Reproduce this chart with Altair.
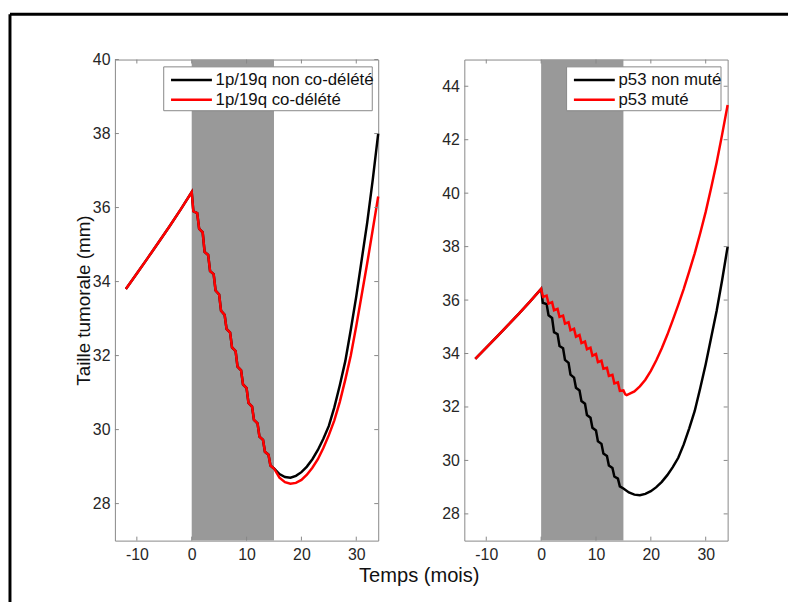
import altair as alt
import pandas as pd

# ---------------- data ----------------
# pre-treatment growth, shared by every curve
pre_t = [-12, -10, -8, -6, -4, -2, 0]
pre_v = [33.80, 34.22, 34.64, 35.07, 35.50, 35.95, 36.42]

# treatment phase, strong response (1p/19q both curves, p53 non muté)
treatA_t = [0.3, 1, 1.35, 2, 2.35, 3, 3.35, 4, 4.35, 5, 5.35, 6, 6.35, 7, 7.35,
            8, 8.35, 9, 9.35, 10, 10.35, 11, 11.35, 12, 12.35, 13, 13.35, 14, 14.35, 15]
treatA_v = [35.90, 35.85, 35.43, 35.33, 34.80, 34.72, 34.28, 34.20, 33.76, 33.65,
            33.21, 33.10, 32.72, 32.62, 32.22, 32.12, 31.70, 31.60, 31.22, 31.12,
            30.72, 30.62, 30.26, 30.17, 29.81, 29.72, 29.40, 29.32, 29.03, 28.95]

# treatment phase, weak response (p53 muté)
treatB_t = [0.35, 1, 1.35, 2, 2.35, 3, 3.35, 4, 4.35, 5, 5.35, 6, 6.35, 7, 7.35,
            8, 8.35, 9, 9.35, 10, 10.35, 11, 11.35, 12, 12.35, 13, 13.35, 14, 14.35,
            15, 15.35, 15.6]
treatB_v = [36.12, 36.17, 35.87, 35.92, 35.62, 35.67, 35.37, 35.42, 35.12, 35.17,
            34.87, 34.93, 34.63, 34.69, 34.39, 34.45, 34.16, 34.22, 33.92, 33.98,
            33.68, 33.73, 33.43, 33.47, 33.16, 33.20, 32.88, 32.92, 32.60, 32.62,
            32.47, 32.44]

post_t = [16, 17, 18, 19, 20, 21, 22, 23, 24, 25, 26, 27, 28, 29, 30, 31, 32, 33, 34]
post_black_v = [28.80, 28.72, 28.70, 28.75, 28.85, 29.00, 29.20, 29.45, 29.75, 30.10,
                30.60, 31.20, 31.85, 32.70, 33.60, 34.60, 35.60, 36.75, 38.00]
post_red_left_v = [28.70, 28.58, 28.54, 28.56, 28.64, 28.78, 28.97, 29.20, 29.50, 29.85,
                   30.25, 30.75, 31.35, 32.00, 32.80, 33.65, 34.50, 35.40, 36.30]
post_red_right_v = [32.47, 32.58, 32.77, 33.02, 33.35, 33.75, 34.20, 34.70, 35.25, 35.82,
                    36.42, 37.07, 37.75, 38.50, 39.30, 40.20, 41.15, 42.20, 43.30]

labels_left = ["1p/19q non co-délété", "1p/19q co-délété"]
labels_right = ["p53 non muté", "p53 muté"]

x_ticks = [-10, 0, 10, 20, 30]
y_ticks_left = [28, 30, 32, 34, 36, 38, 40]
y_ticks_right = [28, 30, 32, 34, 36, 38, 40, 42, 44]
band_start = [0]
band_end = [15]

# ---------------- style ----------------
W, H = 266, 486
FONT = "Liberation Sans"
GRAY = "#888888"
BAND = "#999999"
TXT = "#262626"
XDOM = [-14, 34]


def make_panel(bt, bv, rt, rv, labels, ydom, yticks, left, leg_x0, leg_x1):
    xs = alt.Scale(domain=XDOM, nice=False, zero=False)
    ys = alt.Scale(domain=ydom, nice=False, zero=False)
    if left:
        xaxis = alt.Axis(values=x_ticks, labelExpr="datum.value", title="Temps (mois)",
                         titleX=307, titleY=41, titleAlign="center",
                         titleBaseline="alphabetic", titleFontSize=20.3, titleFont=FONT,
                         titleFontWeight="normal", titleColor="#111111")
        yaxis = alt.Axis(values=yticks, labelExpr="datum.value", title="Taille tumorale (mm)",
                         titleX=-31.5, titleY=H / 2, titleAngle=270, titleBaseline="middle",
                         titleAlign="center", titleFontSize=19, titleFont=FONT,
                         titleFontWeight="normal", titleColor="#111111")
    else:
        xaxis = alt.Axis(values=x_ticks, labelExpr="datum.value", title=None)
        yaxis = alt.Axis(values=yticks, labelExpr="datum.value", title=None)

    X = lambda f: alt.X(f, type="quantitative", scale=xs, axis=xaxis)
    Y = lambda f: alt.Y(f, type="quantitative", scale=ys, axis=yaxis)

    band = alt.Chart(pd.DataFrame({"s": band_start, "e": band_end})).mark_rect(
        color=BAND).encode(x=X("s"), x2="e", y=alt.value(0), y2=alt.value(H))

    df_b = pd.DataFrame({"t": bt, "v": bv, "serie": labels[0]})
    df_r = pd.DataFrame({"t": rt, "v": rv, "serie": labels[1]})
    cs = alt.Scale(domain=labels, range=["#000000", "#ff0000"])
    line_b = alt.Chart(df_b).mark_line(strokeWidth=2.5).encode(
        x=X("t"), y=Y("v"), color=alt.Color("serie:N", scale=cs, legend=None))
    line_r = alt.Chart(df_r).mark_line(strokeWidth=2.5).encode(
        x=X("t"), y=Y("v"), color=alt.Color("serie:N", scale=cs, legend=None))

    dx = pd.DataFrame({"tx": x_ticks})
    dy = pd.DataFrame({"ty": yticks})
    tk = dict(color=GRAY, strokeWidth=1)
    tick_b = alt.Chart(dx).mark_rule(**tk).encode(x=X("tx"), y=alt.value(H), y2=alt.value(H - 4))
    tick_t = alt.Chart(dx).mark_rule(**tk).encode(x=X("tx"), y=alt.value(0), y2=alt.value(4))
    tick_l = alt.Chart(dy).mark_rule(**tk).encode(y=Y("ty"), x=alt.value(0), x2=alt.value(4))
    tick_r = alt.Chart(dy).mark_rule(**tk).encode(y=Y("ty"), x=alt.value(W), x2=alt.value(W - 4))

    layers = [band, line_b, line_r, tick_b, tick_t, tick_l, tick_r]

    # legend box (drawn inside the plot, top right)
    leg_box = alt.Chart(pd.DataFrame({"k": [0]})).mark_rect(
        fill="white", stroke=GRAY, strokeWidth=1).encode(
        x=alt.value(leg_x0), x2=alt.value(leg_x1), y=alt.value(7.4), y2=alt.value(51.7))
    layers.append(leg_box)
    for i, (lab, col) in enumerate(zip(labels, ["#000000", "#ff0000"])):
        yy = 20.7 + 20 * i
        d = pd.DataFrame({"label": [lab]})
        layers.append(alt.Chart(d).mark_rule(color=col, strokeWidth=2.5).encode(
            x=alt.value(leg_x0 + 7.4), x2=alt.value(leg_x0 + 48.7), y=alt.value(yy)))
        layers.append(alt.Chart(d).mark_text(
            align="left", baseline="middle", font=FONT, fontSize=17, color="#111111").encode(
            text="label:N", x=alt.value(leg_x0 + 52.4), y=alt.value(yy)))

    if left:
        fr = pd.DataFrame({"k": [0]})
        layers.append(alt.Chart(fr).mark_rule(color="black", strokeWidth=3).encode(
            x=alt.value(-106), y=alt.value(-45.8), y2=alt.value(548)))
        layers.append(alt.Chart(fr).mark_rule(color="black", strokeWidth=3).encode(
            x=alt.value(-106), x2=alt.value(680), y=alt.value(-45.8)))

    return alt.layer(*layers).properties(width=W, height=H)


left_panel = make_panel(pre_t + treatA_t + post_t, pre_v + treatA_v + post_black_v,
                        pre_t + treatA_t + post_t, pre_v + treatA_v + post_red_left_v,
                        labels_left, [27, 40], y_ticks_left, True, 49.3, 260.0)
right_panel = make_panel(pre_t + treatA_t + post_t, pre_v + treatA_v + post_black_v,
                         pre_t + treatB_t + post_t[1:], pre_v + treatB_v + post_red_right_v[1:],
                         labels_right, [27, 45], y_ticks_right, False, 103.3, 259.3)

chart = alt.hconcat(left_panel, right_panel, spacing=87, bounds="flush").properties(
    padding={"left": 0, "top": 1, "right": 0, "bottom": 0}
).configure_view(stroke=GRAY, strokeWidth=1).configure_axis(
    ticks=False, domain=False, grid=False, labelFont=FONT, labelFontSize=16,
    labelColor=TXT, labelPadding=5
).configure_axisX(labelPadding=6)

chart.save("out.html", embed_options={"renderer": "svg", "actions": False})
